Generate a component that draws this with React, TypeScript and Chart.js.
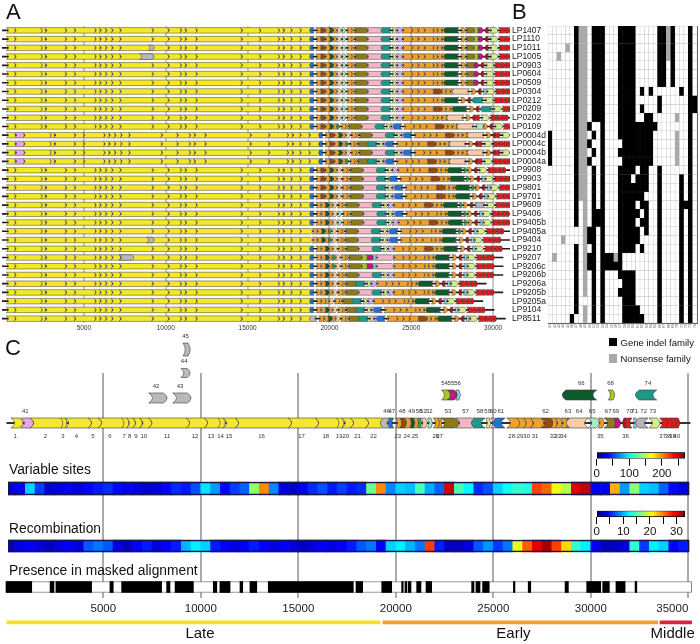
import React, { useEffect, useRef } from 'react';
import { Chart, registerables, BarController, BarElement } from 'chart.js';

Chart.register(...registerables);

const FONT = '"Liberation Sans", Arial, Helvetica, sans-serif';
if (typeof document !== 'undefined') document.body.style.margin = '0';
Chart.defaults.font.family = FONT;
Chart.defaults.color = '#222';

// ---------------- data ----------------
const GENOMES = ['LP1407','LP1110','LP1011','LP1005','LP0903','LP0604','LP0509','LP0304','LP0212','LP0209','LP0202','LP0109','LP0004d','LP0004c','LP0004b','LP0004a','LP9908','LP9903','LP9801','LP9701','LP9609','LP9406','LP9405b','LP9405a','LP9404','LP9210','LP9207','LP9206c','LP9206b','LP9206a','LP9205b','LP9205a','LP9104','LP8511'];

const MATRIX_GENES = ['41','42','43','44','45','46','47','48','49','50','51','52','53','54','55','56','57','58','59','60','61','62','63','64','65','66','67','68','69','70','71','72','73','74'];

// '#' gene indel family present, 'g' nonsense family, '.' absent
const MATRIX = [
  '......#gg.###...####.....##g#...#.',
  '......#gg.###...####.....##g#...#.',
  '....g.#gg.###...####.....##g#...#.',
  '..g...#gg.###...####.....##g#...#.',
  '......#gg.###...####.....##.#...#.',
  '......#gg.###...####.....##.#...#.',
  '......#gg.###...####.....##.#...#.',
  '......#gg.###...####.#.#......#.#.',
  '......#gg.###...####.....#......##',
  '......#gg.###...####.#...#......##',
  '......#gg.###...####..##.....g..#.',
  '......#gg#..#...#########.......#.',
  '#.....#gg.#.#...########.....g..#.',
  '#.....#gg#..#....#######.....g..#.',
  '#.....#gg.#.#...########.....g..#.',
  '#.....#gg#..#....#######.....g..#.',
  '......#gg.#.#...####.##..#......#.',
  '......#gg.#.#...###.###..#....#.#.',
  '......#gg.#.#...#######..#....#.#.',
  '......#gg.#.#...######...#....#.#.',
  '......#.g.#.#...####.##..#....###.',
  '......#.g.###...#####.#..#....#.#.',
  '......#.g.###...####.##..#....#.#.',
  '........g##.#...#####.#..#....#.#.',
  '...g....g##.#...#####....#....#.#.',
  '......#.g.#.#...####.#...#....#.#.',
  '.g....#.g##.###g#........#....#.#.',
  '......#.g##.#####........#....#.#.',
  '......#.g.#.#...####.....#....#.#.',
  '......#.g.#.#....###.....#....#.#.',
  '......#.g.#.#...####.....#....#.#.',
  '......#...#.#....###.....#....#.#.',
  '......#.g.#.#....####....#....#.#.',
  '.....#..g.#.#....#####...#....#.#.',
];

// gene map (alignment coordinates, bp) as in panel C
const GENE_NAMES = ['1','41','2','3','4','5','6','7','8','9','10','11','12','13','14','15','16','17','18','19','20','21','22','46','47','23','48','24','49','25','50','51','52','26','27','53','57','58','59','60','61','28','29','30','31','62','32','33','34','63','64','65','35','67','69','36','70','71','72','73','37','38','39','40','54','55','56','66','68','74','42','43','44','45'];
const GENE_START = [267,764,1241,2831,3036,4215,4728,5943,6200,6507,6846,7307,9241,10164,10882,11138,11754,14472,15857,16969,17225,17651,18420,19359,19701,19994,20215,20436,20728,20897,21122,21291,21635,21923,22179,22318,23087,24062,24625,24866,25174,25686,26199,26541,26883,27446,27959,28200,28472,28759,28934,29872,30385,30677,31154,31700,31892,32179,32482,32984,33533,33841,34082,34318,22349,22657,23087,28728,30898,32482,7328,8559,8984,9087];
const GENE_END = [692,1241,2831,3036,4215,4728,5943,6200,6507,6846,7307,9241,10164,10882,11138,11754,14472,15857,16969,17225,17651,18420,19292,19701,19891,20215,20436,20692,20897,21071,21255,21512,21804,22179,22302,23036,24062,24574,24794,25122,25600,26199,26541,26883,27395,27908,28165,28421,28728,28893,29872,30266,30590,31103,31410,31860,32097,32318,32943,33379,33841,34082,34318,34487,22657,22995,23241,30302,31123,33379,8077,9307,9307,9343];
// core = in every genome, acc = indel gene in the main row, alt = alternative gene (upper row), ovl = overlapping alternative
const GENE_KIND = ['core','acc','core','core','core','core','core','core','core','core','core','core','core','core','core','core','core','core','core','core','core','core','core','acc','acc','core','acc','core','acc','core','acc','acc','acc','core','core','acc','acc','acc','acc','acc','acc','core','core','core','core','acc','core','core','core','acc','acc','acc','core','acc','acc','core','acc','acc','acc','acc','core','core','core','core','alt','alt','alt','alt','alt','alt','ovl','ovl','ovl','ovl'];
const GENE_STRAND = [1,1,1,1,1,1,1,1,1,1,1,1,1,1,1,1,1,1,1,1,1,1,1,-1,-1,1,1,1,1,1,1,1,1,1,1,1,1,-1,1,1,-1,1,1,1,1,1,1,1,1,1,-1,1,1,1,1,-1,-1,1,-1,1,1,1,1,1,1,1,1,-1,1,-1,1,1,1,1];
const GENOME_END = 35090;
// lengths in the genomes that differ from the alignment span
const A_LEN: Record<string, number> = { '66': 810, '74': 610 };
const ALIGN_GAP: Record<string, number> = { '17': 300, '21': 250, '22': 200 };

// heat maps, 500 bp bins
const BIN_BP = 500;
const VAR_SITES = [25,30,90,50,20,25,30,25,35,40,45,35,30,25,20,25,35,45,40,55,95,75,35,50,60,140,200,70,25,20,30,45,55,40,50,40,45,130,200,70,90,85,120,80,60,250,120,100,45,55,90,105,115,110,220,210,165,150,245,255,30,30,190,75,140,90,85,60,35,25];
const RECOMB = [2,3,4,3,2,3,4,3,7,8,7,3,2,4,5,3,4,5,10,12,11,5,4,3,4,5,4,3,4,3,2,3,4,3,4,5,7,8,4,11,12,10,8,27,5,2,2,3,7,9,6,8,20,26,30,32,27,22,14,12,4,2,2,3,14,6,12,11,4,5];
const VAR_MAX = 271;
const REC_MAX = 33.2;
const VAR_CB_TICKS = [0,50,100,150,200,250];
const VAR_CB_LABELS = [0,100,200];
const REC_CB_TICKS = [0,5,10,15,20,25,30];
const REC_CB_LABELS = [0,10,20,30];

const PRESENT_START = [10,2270,2570,5340,5940,8250,8680,10640,10980,12010,12520,13460,17960,19280,20300,20470,20630,21070,21550,23890,24110,24450,26030,26790,28680,29790,30610,31290,32270];
const PRESENT_END = [1330,2470,4400,5510,7990,8420,9620,10820,11500,12150,12870,17820,18300,19790,20380,20560,20780,21290,21840,24010,24320,24790,26110,26920,28850,30510,30950,31760,32360];
const PRESENCE_SPAN = [0, 35170];
const STRIP_SPAN = [130, 35050];

const PHASE_NAMES = ['Late','Early','Middle'];
const PHASE_START = [0, 19340, 33550];
const PHASE_END = [19190, 33430, 35170];
const PHASE_LABEL_BP = [9960, 26030, 34200];

const A_TICKS = [5000,10000,15000,20000,25000,30000];
const C_TICKS = [0,5000,10000,15000,20000,25000,30000,35000];

// ---------------- styles ----------------
const YEL = '#f5e829';
const ORA = '#f0a12c';
const PHASE_COLORS = ['#f6e21c', '#f0a032', '#e0203c'];
const GENE_COLOR: Record<string, string> = {
  '41': '#e9a6e6', '42': '#b9b9b9', '43': '#b9b9b9', '44': '#b9b9b9', '45': '#b9b9b9', '46': '#b9b9b9',
  '47': '#1f74d1', '61': '#1f74d1', '48': '#9a4812', '62': '#9a4812', '49': '#0e5b2e', '66': '#0e5b2e',
  '50': '#3aa84a', '63': '#3aa84a', '51': '#f8caa6', '64': '#f8caa6', '52': '#a7edc6', '65': '#a7edc6',
  '53': '#8c7a1c', '67': '#8c7a1c', '54': '#a3cb23', '68': '#a3cb23', '55': '#c0187e', '69': '#c0187e',
  '56': '#90dcef', '71': '#90dcef', '57': '#f4b5c5', '58': '#1d998b', '74': '#1d998b', '59': '#d6ee8a',
  '73': '#d6ee8a', '60': '#d9aaf0', '70': '#e11a1c', '37': '#e11a1c', '38': '#e11a1c', '39': '#e11a1c',
  '40': '#e11a1c', '36': '#b3161a', '72': '#b5b5b5',
};
GENE_NAMES.forEach((n) => { if (!GENE_COLOR[n]) GENE_COLOR[n] = Number(n) <= 22 ? YEL : ORA; });
const CELL_FILL: Record<string, string> = { '#': '#000000', 'g': '#a9a9a9', '.': '#ffffff' };
const CELL_EDGE: Record<string, string> = { '#': '#000000', 'g': '#a9a9a9', '.': '#c6c6c6' };
const MIN_GAP = 40;
const LANE = { top3: -23.5, top2: 0, up: 22, up2: 25, main: 50, vs: 115.5, rec: 173, pres: 214, phase: 249.3, phaseText: 265.3 };

function jet(t: number) {
  t = Math.max(0, Math.min(1, t));
  const c = (v: number) => Math.round(Math.max(0, Math.min(1, v)) * 255);
  return `rgb(${c(1.5 - Math.abs(4 * t - 3))},${c(1.5 - Math.abs(4 * t - 2))},${c(1.5 - Math.abs(4 * t - 1))})`;
}

// ---------------- custom arrow element ----------------
class GeneArrow extends (BarElement as any) {
  static id = 'geneArrow';
  static defaults = { strand: 1 };
  draw(ctx: CanvasRenderingContext2D) {
    const p: any = (this as any).getProps(['x', 'y', 'base', 'height'], true);
    const o: any = (this as any).options;
    const l = Math.min(p.x, p.base), r = Math.max(p.x, p.base);
    const h = p.height, y = p.y, t = y - h / 2, b = y + h / 2;
    const w = r - l;
    const hd = Math.min(h * 0.38, w * 0.45);
    ctx.save();
    ctx.beginPath();
    if (o.strand >= 0) {
      ctx.moveTo(l, t); ctx.lineTo(r, t);
      ctx.quadraticCurveTo(r + 2 * hd, y, r, b);
      ctx.lineTo(l, b);
      ctx.quadraticCurveTo(l + 2 * hd, y, l, t);
    } else {
      ctx.moveTo(r, t); ctx.lineTo(l, t);
      ctx.quadraticCurveTo(l - 2 * hd, y, l, b);
      ctx.lineTo(r, b);
      ctx.quadraticCurveTo(r - 2 * hd, y, r, t);
    }
    ctx.closePath();
    ctx.fillStyle = o.backgroundColor;
    ctx.fill();
    if (o.borderWidth > 0) { ctx.lineWidth = o.borderWidth; ctx.strokeStyle = o.borderColor; ctx.stroke(); }
    ctx.restore();
  }
}
class GeneController extends (BarController as any) {
  static id = 'gene';
  static defaults = { ...(BarController as any).defaults, dataElementType: 'geneArrow' };
  static overrides = (BarController as any).overrides;
}
Chart.register(GeneArrow as any, GeneController as any);

// ---------------- genome layout for panel A ----------------
const SEQ = GENE_NAMES.map((_, i) => i).filter((i) => GENE_KIND[i] !== 'ovl').sort((a, b) =>
  GENE_START[a] - GENE_START[b] || (GENE_KIND[a] === 'alt' ? -1 : 0) - (GENE_KIND[b] === 'alt' ? -1 : 0));
const PRE_GAP: number[] = [];
(() => { let maxEnd = 0; SEQ.forEach((i) => { PRE_GAP.push(Math.max(MIN_GAP, GENE_START[i] - maxEnd)); maxEnd = Math.max(maxEnd, GENE_END[i]); }); })();
const LAST_END = Math.max(...GENE_END);

function layoutRow(r: number) {
  const row = MATRIX[r];
  const has = (i: number) => GENE_KIND[i] === 'core' || row[Number(GENE_NAMES[i]) - 41] !== '.';
  const out: any[] = [];
  const placed: [number, number][] = [];
  let aEnd = 0;
  SEQ.forEach((i, k) => {
    if (!has(i)) return;
    const name = GENE_NAMES[i];
    const len = A_LEN[name] ?? (GENE_END[i] - GENE_START[i] - (ALIGN_GAP[name] ?? 0));
    const s = aEnd + PRE_GAP[k];
    out.push({ y: GENOMES[r], x: [s, s + len], g: name, d: GENE_STRAND[i] });
    placed.push([GENE_START[i], s]);
    aEnd = s + len;
  });
  GENE_NAMES.forEach((name, i) => {
    if (GENE_KIND[i] !== 'ovl' || !has(i)) return;
    let shift = 0;
    for (const [c, a] of placed) if (c <= GENE_START[i]) shift = c - a;
    out.push({ y: GENOMES[r], x: [GENE_START[i] - shift, GENE_END[i] - shift], g: name, d: GENE_STRAND[i] });
  });
  return { genes: out, end: aEnd + GENOME_END - LAST_END };
}

const colorOf = (c: any) => (c.raw && GENE_COLOR[c.raw.g]) || '#ccc';
const strandOf = (c: any) => (c.raw ? c.raw.d : 1);
const baseOpts = { animation: false, responsive: false, events: [], plugins: { legend: { display: false }, tooltip: { enabled: false } } };

function makeA(canvas: HTMLCanvasElement) {
  const genes: any[] = [];
  const lines: any[] = [];
  GENOMES.forEach((g, r) => { const L = layoutRow(r); genes.push(...L.genes); lines.push({ y: g, x: [0, L.end] }); });
  return new Chart(canvas, {
    type: 'bar',
    data: {
      labels: GENOMES,
      datasets: [
        { type: 'gene', data: genes, backgroundColor: colorOf, borderColor: '#3a3a3a', borderWidth: 0.5, strand: strandOf, barThickness: 5.5, grouped: false, order: 1 },
        { type: 'bar', data: lines, backgroundColor: '#1e1e1e', barThickness: 1, grouped: false, order: 2 },
      ],
    },
    options: {
      ...baseOpts,
      indexAxis: 'y',
      layout: { padding: { left: 2, right: 0, top: 26, bottom: 0 } },
      scales: {
        x: {
          type: 'linear', min: 0, max: 31030, bounds: 'data',
          afterBuildTicks: (s: any) => { s.ticks = A_TICKS.map((v) => ({ value: v })); },
          afterFit: (s: any) => { s.height = 17; s.paddingLeft = 0; s.paddingRight = 0; },
          grid: { color: '#c9c9c9', lineWidth: 2, drawTicks: false },
          border: { display: false },
          ticks: { callback: (v: any) => String(v), font: { size: 6.5 }, color: '#333', padding: 1, maxRotation: 0, autoSkip: false },
        },
        y: {
          type: 'category', position: 'right', offset: true,
          grid: { display: false, drawTicks: false }, border: { display: false },
          afterFit: (s: any) => { s.width = 38; s.paddingTop = 0; s.paddingBottom = 0; },
          ticks: { font: { size: 8.5, lineHeight: 1 }, color: '#222', padding: 2, autoSkip: false },
        },
      },
    } as any,
  } as any);
}

function makeB(canvas: HTMLCanvasElement) {
  const cells: any[] = [];
  MATRIX.forEach((row, r) => row.split('').forEach((ch, c) => cells.push({ y: GENOMES[r], x: [c, c + 1], v: ch })));
  const frame = { display: true, color: '#666', width: 1 };
  return new Chart(canvas, {
    type: 'bar',
    data: {
      labels: GENOMES,
      datasets: [{
        data: cells,
        backgroundColor: (c: any) => (c.raw ? CELL_FILL[c.raw.v] : '#fff'),
        borderColor: (c: any) => (c.raw ? CELL_EDGE[c.raw.v] : '#ccc'),
        borderWidth: 0.5, borderSkipped: false, barPercentage: 1, categoryPercentage: 1, grouped: false,
      }],
    },
    options: {
      ...baseOpts,
      indexAxis: 'y',
      layout: { padding: { left: 8, right: 3, top: 26, bottom: 0 } },
      scales: {
        x: {
          type: 'linear', min: 0, max: MATRIX_GENES.length, bounds: 'data',
          afterBuildTicks: (s: any) => { s.ticks = MATRIX_GENES.map((_, i) => ({ value: i + 0.5 })); },
          afterFit: (s: any) => { s.height = 17; s.paddingLeft = 0; s.paddingRight = 0; },
          ticks: { callback: (_v: any, i: number) => MATRIX_GENES[i], font: { size: 3.6 }, color: '#555', minRotation: 90, maxRotation: 90, autoSkip: false, padding: 1 },
          grid: { display: false, drawTicks: false }, border: frame,
        },
        x2: {
          type: 'linear', position: 'top', min: 0, max: MATRIX_GENES.length,
          ticks: { display: false }, grid: { display: false, drawTicks: false }, border: frame,
          afterFit: (s: any) => { s.height = 0; },
        },
        y: {
          type: 'category', offset: true, ticks: { display: false }, grid: { display: false, drawTicks: false }, border: frame,
          afterFit: (s: any) => { s.width = 0; },
        },
        y2: {
          type: 'category', labels: GENOMES, position: 'right', offset: true, ticks: { display: false },
          grid: { display: false, drawTicks: false }, border: frame, afterFit: (s: any) => { s.width = 0; },
        },
      },
    } as any,
  } as any);
}

const geneLabelPlugin = {
  id: 'geneLabels',
  afterDatasetsDraw(chart: any) {
    const ctx = chart.ctx;
    ctx.save();
    ctx.font = `6px ${FONT}`;
    ctx.fillStyle = '#333';
    ctx.textAlign = 'center';
    chart.data.datasets.forEach((ds: any, i: number) => {
      if (!ds.geneLabels) return;
      chart.getDatasetMeta(i).data.forEach((el: any, j: number) => {
        const raw = ds.data[j];
        const p = el.getProps(['x', 'base', 'y', 'height'], true);
        const cx = (p.x + p.base) / 2;
        if (raw.lp === 'a') { ctx.textBaseline = 'bottom'; ctx.fillText(raw.g, cx, p.y - p.height / 2 - 4); }
        else { ctx.textBaseline = 'top'; ctx.fillText(raw.g, cx, p.y + p.height / 2 + 5); }
      });
    });
    ctx.restore();
  },
};

const phaseLabelPlugin = {
  id: 'phaseLabels',
  afterDatasetsDraw(chart: any) {
    const ctx = chart.ctx;
    ctx.save();
    ctx.font = `15px ${FONT}`;
    ctx.fillStyle = '#111';
    ctx.textAlign = 'center';
    ctx.textBaseline = 'alphabetic';
    const yy = chart.scales.y.getPixelForValue(LANE.phaseText);
    PHASE_NAMES.forEach((n, i) => ctx.fillText(n, chart.scales.x.getPixelForValue(PHASE_LABEL_BP[i]), yy));
    ctx.restore();
  },
};

function makeC(canvas: HTMLCanvasElement) {
  const mainG: any[] = [], upG: any[] = [], g44: any[] = [], g45: any[] = [];
  GENE_NAMES.forEach((name, i) => {
    const k = GENE_KIND[i];
    const pt = { x: [GENE_START[i], GENE_END[i]], g: name, d: GENE_STRAND[i], lp: k === 'core' ? 'b' : 'a' };
    if (k === 'core' || k === 'acc') mainG.push({ ...pt, y: LANE.main });
    else if (name === '44') g44.push({ ...pt, y: LANE.top2 });
    else if (name === '45') g45.push({ ...pt, y: LANE.top3 });
    else upG.push({ ...pt, y: name === '42' || name === '43' ? LANE.up2 : LANE.up });
  });
  const geneDs = (data: any[], th: number) => ({
    type: 'gene', data, backgroundColor: colorOf, borderColor: '#3a3a3a', borderWidth: 0.6, strand: strandOf,
    barThickness: th, grouped: false, order: 2, clip: false, geneLabels: true,
  });
  const bins = (vals: number[], lane: number, max: number, th: number) => ({
    type: 'bar', grouped: false, order: 5, clip: false, barThickness: th,
    data: vals.map((v, i) => ({ y: lane, x: [Math.max(i * BIN_BP, STRIP_SPAN[0]), Math.min((i + 1) * BIN_BP, STRIP_SPAN[1])], v })),
    backgroundColor: (c: any) => (c.raw ? jet(c.raw.v / max) : '#000'),
  });
  const outline = (lane: number, th: number, color: string, fill: string, order: number, span: number[]) => ({
    type: 'bar', grouped: false, order, clip: false, barThickness: th, data: [{ y: lane, x: span }],
    backgroundColor: fill, borderColor: color, borderWidth: 1, borderSkipped: false,
  });
  return new Chart(canvas, {
    type: 'bar',
    data: {
      datasets: [
        geneDs(mainG, 10),
        geneDs(upG, 10),
        geneDs(g44, 9),
        geneDs(g45, 13),
        { type: 'bar', data: [{ y: LANE.main, x: [0, GENOME_END] }], backgroundColor: '#333', barThickness: 1.5, grouped: false, order: 4, clip: false },
        bins(VAR_SITES, LANE.vs, VAR_MAX, 13),
        outline(LANE.vs, 13, '#17174a', 'rgba(0,0,0,0)', 1, STRIP_SPAN),
        bins(RECOMB, LANE.rec, REC_MAX, 12),
        outline(LANE.rec, 12, '#17174a', 'rgba(0,0,0,0)', 1, STRIP_SPAN),
        outline(LANE.pres, 11, '#7a7a7a', '#ffffff', 6, PRESENCE_SPAN),
        {
          type: 'bar', grouped: false, order: 3, clip: false, barThickness: 11, backgroundColor: '#000',
          data: PRESENT_START.map((s, i) => ({ y: LANE.pres, x: [s, PRESENT_END[i]] })),
        },
        {
          type: 'bar', grouped: false, order: 3, clip: false, barThickness: 3,
          data: PHASE_START.map((s, i) => ({ y: LANE.phase, x: [s, PHASE_END[i]] })),
          backgroundColor: PHASE_COLORS,
        },
      ],
    },
    options: {
      ...baseOpts,
      indexAxis: 'y',
      layout: { padding: { left: 5.8, right: 7.8, top: 43, bottom: 30 } },
      scales: {
        x: {
          type: 'linear', min: 0, max: 35200, bounds: 'data',
          afterBuildTicks: (s: any) => { s.ticks = C_TICKS.map((v) => ({ value: v })); },
          afterFit: (s: any) => { s.height = 16; s.paddingLeft = 0; s.paddingRight = 0; },
          grid: { color: (c: any) => (c.tick && c.tick.value === 0 ? 'rgba(0,0,0,0)' : '#ababab'), lineWidth: 2, drawTicks: false },
          border: { display: false },
          ticks: { callback: (v: any) => (v === 0 ? '' : String(v)), align: 'inner', font: { size: 11.5 }, color: '#222', padding: 4, maxRotation: 0, autoSkip: false },
        },
        y: { type: 'linear', min: 0, max: 225, reverse: true, display: false, offset: false, grid: { offset: false } },
      },
    } as any,
    plugins: [geneLabelPlugin, phaseLabelPlugin],
  } as any);
}

const JET_STOPS: [number, string][] = [[0, '#000080'], [0.125, '#0000ff'], [0.375, '#00ffff'], [0.625, '#ffff00'], [0.875, '#ff0000'], [1, '#800000']];

function makeCB(canvas: HTMLCanvasElement, max: number, ticks: number[], labels: number[], top: number) {
  return new Chart(canvas, {
    type: 'bar',
    data: {
      labels: ['cb'],
      datasets: [{
        data: [{ y: 'cb', x: [0, max] }],
        backgroundColor: (c: any) => {
          const a = c.chart.chartArea;
          if (!a) return '#00f';
          const g = c.chart.ctx.createLinearGradient(a.left, 0, a.right, 0);
          JET_STOPS.forEach(([p, col]) => g.addColorStop(p, col));
          return g;
        },
        borderColor: '#000', borderWidth: 1, borderSkipped: false, barPercentage: 1, categoryPercentage: 1,
      }],
    },
    options: {
      ...baseOpts,
      indexAxis: 'y',
      layout: { padding: { left: 8.7, right: 9, top, bottom: 0 } },
      scales: {
        x: {
          type: 'linear', min: 0, max, bounds: 'data',
          afterBuildTicks: (s: any) => { s.ticks = ticks.map((v) => ({ value: v })); },
          afterFit: (s: any) => { s.height = 36 - top - 6.3; s.paddingLeft = 0; s.paddingRight = 0; },
          ticks: { callback: (v: any) => (labels.includes(v) ? String(v) : ''), font: { size: 11.5 }, color: '#111', padding: 1, maxRotation: 0, autoSkip: false },
          grid: { drawOnChartArea: false, drawTicks: true, tickLength: 7, color: '#000', lineWidth: 1 },
          border: { display: false },
        },
        y: { type: 'category', display: false, offset: true },
      },
    } as any,
  } as any);
}

const abs = (s: any) => ({ position: 'absolute' as const, ...s });

export default function App() {
  const aRef = useRef<HTMLCanvasElement>(null);
  const bRef = useRef<HTMLCanvasElement>(null);
  const cRef = useRef<HTMLCanvasElement>(null);
  const vRef = useRef<HTMLCanvasElement>(null);
  const rRef = useRef<HTMLCanvasElement>(null);

  useEffect(() => {
    document.body.style.margin = '0';
    const charts = [
      makeA(aRef.current!),
      makeB(bRef.current!),
      makeC(cRef.current!),
      makeCB(vRef.current!, VAR_MAX, VAR_CB_TICKS, VAR_CB_LABELS, 7.3),
      makeCB(rRef.current!, REC_MAX, REC_CB_TICKS, REC_CB_LABELS, 6.7),
    ];
    return () => charts.forEach((c) => c.destroy());
  }, []);

  const letter = { fontSize: 22, lineHeight: '22px', color: '#111' };
  const lbl = { fontSize: 13.8, lineHeight: '16px', color: '#111', whiteSpace: 'nowrap' as const };
  const leg = { fontSize: 9.5, lineHeight: '11px', color: '#111', whiteSpace: 'nowrap' as const };

  return (
    <div style={{ position: 'relative', width: 700, height: 644, overflow: 'hidden', background: '#fff', fontFamily: FONT }}>
      <canvas ref={aRef} width={548} height={340} style={abs({ left: 0, top: 0 })} />
      <canvas ref={bRef} width={160} height={340} style={abs({ left: 540, top: 0 })} />
      <canvas ref={cRef} width={700} height={314} style={abs({ left: 0, top: 330 })} />
      <canvas ref={vRef} width={106} height={36} style={abs({ left: 588, top: 445 })} />
      <canvas ref={rRef} width={106} height={36} style={abs({ left: 588, top: 504 })} />
      <div style={abs({ left: 6, top: 1, ...letter })}>A</div>
      <div style={abs({ left: 512, top: 1, ...letter })}>B</div>
      <div style={abs({ left: 5, top: 337, ...letter })}>C</div>
      <div style={abs({ left: 609, top: 337.5, width: 8, height: 8.5, background: '#000' })} />
      <div style={abs({ left: 620.5, top: 336.5, ...leg })}>Gene indel family</div>
      <div style={abs({ left: 609, top: 354, width: 8, height: 8.5, background: '#a9a9a9' })} />
      <div style={abs({ left: 620.5, top: 352.5, ...leg })}>Nonsense family</div>
      <div style={abs({ left: 9, top: 462, ...lbl })}>Variable sites</div>
      <div style={abs({ left: 9, top: 520.5, ...lbl })}>Recombination</div>
      <div style={abs({ left: 9, top: 562.5, ...lbl })}>Presence in masked alignment</div>
    </div>
  );
}
